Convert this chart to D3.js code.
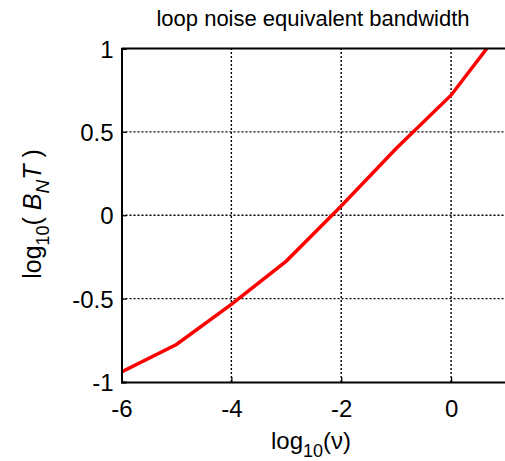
<!DOCTYPE html>
<html><head><meta charset="utf-8">
<script src="https://cdn.jsdelivr.net/npm/d3@7"></script>
<style>body{margin:0;background:#fff}svg{display:block}text{font-family:"Liberation Sans",Arial,sans-serif}</style>
</head><body>
<script>
const xValues = [-6, -5, -4, -3, -2, -1, 0, 1];
const yValues = [-0.94, -0.775, -0.535, -0.275, 0.055, 0.40, 0.72, 1.15];
const xTicks = [-6, -4, -2, 0];
const xTickLabels = ["-6", "-4", "-2", "0"];
const yTicks = [-1, -0.5, 0, 0.5, 1];
const yTickLabels = ["-1", "-0.5", "0", "0.5", "1"];

const W = 505, H = 461;
const FS = 24;
const svg = d3.select("body").append("svg").attr("width", W).attr("height", H);
const x = d3.scaleLinear().domain([-6, 1]).range([121.5, 506]);
const y = d3.scaleLinear().domain([-1, 1]).range([382, 48.5]);

// grid
const g = svg.append("g");
g.selectAll(".gx").data(xTicks.slice(1)).enter().append("line")
  .attr("x1", d => x(d)).attr("x2", d => x(d)).attr("y1", y(-1)).attr("y2", y(1))
  .attr("stroke", "#000").attr("stroke-width", 1.4).attr("stroke-dasharray", "2,2");
g.selectAll(".gy").data(yTicks.slice(1, -1)).enter().append("line")
  .attr("x1", x(-6)).attr("x2", x(1)).attr("y1", d => y(d)).attr("y2", d => y(d))
  .attr("stroke", "#000").attr("stroke-width", 1.4).attr("stroke-dasharray", "2,2");

// clip
svg.append("clipPath").attr("id", "clip").append("rect")
  .attr("x", x(-6)).attr("y", y(1)).attr("width", x(1) - x(-6)).attr("height", y(-1) - y(1));

const data = xValues.map((v, i) => [v, yValues[i]]);
svg.append("path").datum(data).attr("clip-path", "url(#clip)")
  .attr("d", d3.line().x(d => x(d[0])).y(d => y(d[1])))
  .attr("fill", "none").attr("stroke", "#ff0000").attr("stroke-width", 3.5);

// axes
const xAxis = d3.axisBottom(x).tickValues(xTicks).tickSize(-5).tickPadding(18).tickFormat((d, i) => xTickLabels[i]);
const gx = svg.append("g").attr("transform", `translate(0,${y(-1)})`).call(xAxis);
const yAxis = d3.axisLeft(y).tickValues(yTicks).tickSize(-5).tickPadding(8).tickFormat((d, i) => yTickLabels[i]);
const gy = svg.append("g").attr("transform", `translate(${x(-6)},0)`).call(yAxis);
[gx, gy].forEach(a => {
  a.select(".domain").attr("stroke", "#000").attr("stroke-width", 2);
  a.selectAll(".tick line").attr("stroke", "#000").attr("stroke-width", 1.3);
  a.selectAll(".tick text").attr("font-size", FS).attr("fill", "#000").attr("font-family", "Liberation Sans, Arial, sans-serif");
});
gx.selectAll(".tick text").attr("dy", "0.71em");
gy.selectAll(".tick text").attr("dy", "0.36em");
// top border
svg.append("line").attr("x1", x(-6)).attr("x2", x(1)).attr("y1", y(1)).attr("y2", y(1))
  .attr("stroke", "#000").attr("stroke-width", 2);

// title
svg.append("text").attr("x", 313).attr("y", 26).attr("text-anchor", "middle")
  .attr("font-size", 22).text("loop noise equivalent bandwidth");

// x label
const xl = svg.append("text").attr("x", 311).attr("y", 449).attr("text-anchor", "middle").attr("font-size", FS);
xl.append("tspan").text("log");
xl.append("tspan").attr("font-size", 18).attr("dy", 8).text("10");
xl.append("tspan").attr("dy", -8).text("(\u03BD)");

// y label
const yl = svg.append("text").attr("transform", "translate(41,214) rotate(-90)")
  .attr("text-anchor", "middle").attr("font-size", 25);
yl.append("tspan").text("log");
yl.append("tspan").attr("font-size", 18).attr("dy", 8).text("10");
yl.append("tspan").attr("dy", -8).text("( ");
yl.append("tspan").attr("font-style", "italic").text("B");
yl.append("tspan").attr("font-size", 19).attr("dy", 8).attr("font-style", "italic").text("N");
yl.append("tspan").attr("dy", -8).attr("font-style", "italic").text("T");
yl.append("tspan").text(" )");
</script>
</body></html>
